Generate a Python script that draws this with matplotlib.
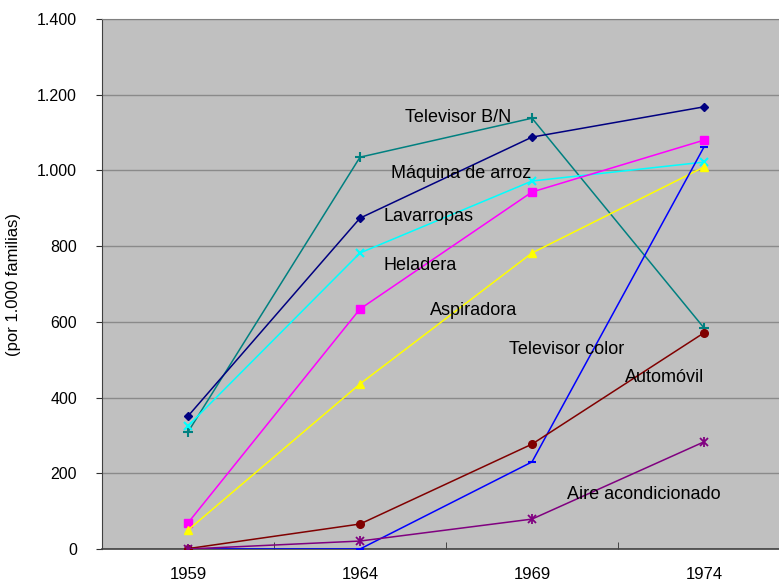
import numpy as np
import matplotlib
matplotlib.use("Agg")
import matplotlib.pyplot as plt
from matplotlib.ticker import FuncFormatter, FixedLocator

plt.rcParams['font.family'] = ['Liberation Sans', 'DejaVu Sans']

years = ['1959', '1964', '1969', '1974']

tv_bn = [309, 1035, 1138, 584]
maquina_arroz = [351, 874, 1088, 1168]
lavarropas = [325, 782, 972, 1022]
heladera = [69, 634, 943, 1080]
aspiradora = [50, 436, 782, 1009]
tv_color = [0, 0, 230, 1062]
automovil = [1, 66, 277, 571]
aire = [0, 21, 79, 283]

series = [
    ('Televisor B/N', tv_bn, '#008080', '+', 7),
    ('Máquina de arroz', maquina_arroz, '#000080', 'D', 4.5),
    ('Lavarropas', lavarropas, '#00FFFF', 'x', 6),
    ('Heladera', heladera, '#FF00FF', 's', 5.5),
    ('Aspiradora', aspiradora, '#FFFF00', '^', 6),
    ('Televisor color', tv_color, '#0000FF', '_', 6),
    ('Automóvil', automovil, '#800000', 'o', 5.5),
    ('Aire acondicionado', aire, '#800080', '*', 0),
]

# label positions (category index, value)
label_pos = {
    'Televisor B/N': (1.57, 1141),
    'Máquina de arroz': (1.59, 993),
    'Lavarropas': (1.40, 877),
    'Heladera': (1.35, 750),
    'Aspiradora': (1.66, 629),
    'Televisor color': (2.20, 528),
    'Automóvil': (2.77, 454),
    'Aire acondicionado': (2.65, 145),
}

W, H = 779, 582
fig = plt.figure(figsize=(W / 100, H / 100), dpi=100, facecolor='white')
left, right, top, bottom = 102, 790, 19, 549
ax = fig.add_axes([left / W, (H - bottom) / H, (right - left) / W, (bottom - top) / H])
ax.set_facecolor('#C0C0C0')

x = np.arange(len(years))
for name, vals, color, marker, ms in series:
    if marker == '*':
        ax.plot(x, vals, color=color, lw=1.1, zorder=3)
        ax.plot(x, vals, color=color, lw=0, marker='x', ms=6, mew=1.3, zorder=4)
        ax.plot(x, vals, color=color, lw=0, marker='|', ms=7, mew=1.3, zorder=4)
    else:
        ax.plot(x, vals, color=color, lw=1.1, marker=marker, ms=ms,
                mew=1.5 if marker in '+x_' else 1, zorder=3)
    tx, ty = label_pos[name]
    ax.text(tx, ty, name, ha='center', va='center', fontsize=13, color='black', zorder=5)

ax.set_xlim(-0.5, 3.5)
ax.set_ylim(0, 1400)
ax.set_yticks(np.arange(0, 1401, 200))
ax.yaxis.set_major_formatter(FuncFormatter(lambda v, p: f'{int(v):,}'.replace(',', '.')))
ax.grid(axis='y', color='#8A8A8A', lw=1)
ax.set_axisbelow(True)

ax.set_xticks(x)
ax.set_xticklabels(years)
ax.xaxis.set_minor_locator(FixedLocator([0.5, 1.5, 2.5]))
ax.tick_params(axis='x', which='major', length=0, pad=13, labelsize=12)
ax.tick_params(axis='x', which='minor', direction='in', length=5, color='#303030')
ax.tick_params(axis='y', length=4, color='#303030', pad=14, labelsize=11.5)

ax.set_ylabel('(por 1.000 familias)', fontsize=12)
ax.yaxis.set_label_coords(-0.118, 0.5)

ax.spines['right'].set_visible(False)
ax.spines['top'].set_color('#808080')
ax.spines['left'].set_color('#404040')
ax.spines['bottom'].set_color('#404040')
ax.spines['bottom'].set_linewidth(1.2)

fig.savefig('out.png', dpi=100, facecolor='white')
